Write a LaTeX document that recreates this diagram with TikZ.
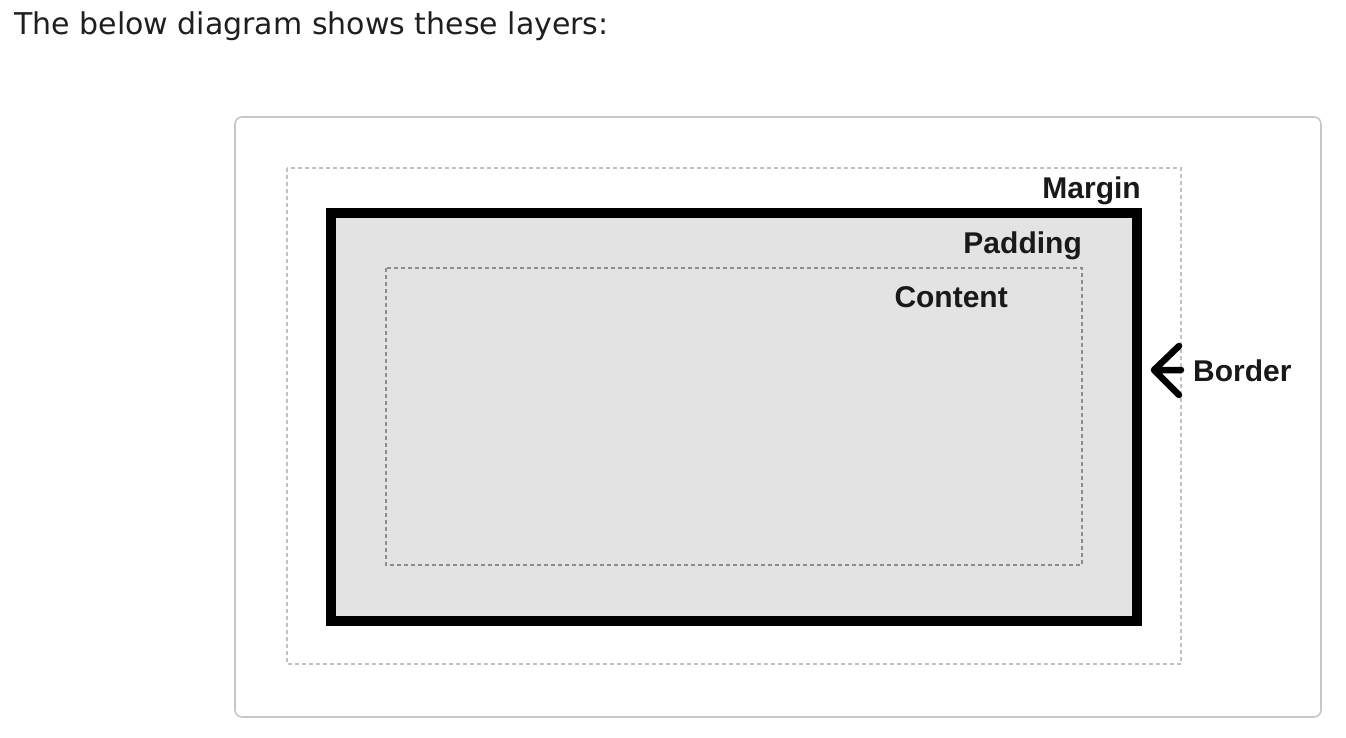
\documentclass[tikz,border=0pt]{standalone}
\usepackage{fontspec}
\setmainfont{Liberation Sans}
\newfontfamily\headingfont{DejaVu Sans}
\begin{document}
\begin{tikzpicture}[x=1pt,y=-1pt,
  heading/.style={anchor=base west,inner sep=0pt,text=black!88,font=\headingfont\fontsize{30}{35}\selectfont},
  layerlabel/.style={inner sep=0pt,text=black!90,font=\fontsize{30}{35}\selectfont\bfseries},
  frame/.style={draw=black!22,line width=1.6pt,rounded corners=7pt},
  margindash/.style={draw=black!24,line width=1.3pt,dash pattern=on 4pt off 3pt},
  contentdash/.style={draw=black!45,line width=1.3pt,dash pattern=on 4pt off 3pt},
  borderbox/.style={draw=black,fill=black!11,line width=10pt},
  chevron/.style={draw=black,line width=6.5pt,line cap=round,line join=round}]
\useasboundingbox (0,0) rectangle (1346,738);
\fill[white] (0,0) rectangle (1346,738);
\node[heading] (title) at (14,35) {The below diagram shows these layers:};
\draw[frame] (235,117) rectangle (1321,717);
\draw[margindash] (287,168) rectangle (1181,664);
\draw[borderbox] (331,213) rectangle (1137,621);
\draw[contentdash] (386,268) rectangle (1082,565);
\node[layerlabel,anchor=base east] (margin) at (1141,199) {Margin};
\node[layerlabel,anchor=base east] (padding) at (1082,253) {Padding};
\node[layerlabel,anchor=base east] (content) at (1008,307) {Content};
\node[layerlabel,anchor=base west] (border) at (1193,381) {Border};
\coordinate (tip) at (1154,370);
\coordinate (armA) at (1179,346);
\coordinate (armB) at (1179,395);
\coordinate (tail) at (1181,370);
\draw[chevron] (armA) -- (tip) -- (armB) (tip) -- (tail);
\end{tikzpicture}
\end{document}
